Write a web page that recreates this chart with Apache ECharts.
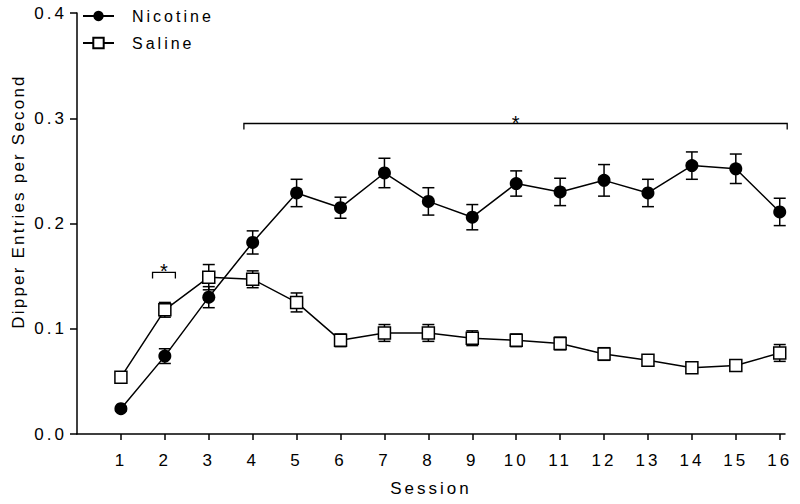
<!DOCTYPE html>
<html><head><meta charset="utf-8">
<script src="https://cdn.jsdelivr.net/npm/echarts@6/dist/echarts.min.js"></script>
<style>
html,body{margin:0;padding:0;background:#fff}
#c{width:800px;height:504px}
#c text{letter-spacing:3px}
</style></head><body><div id="c"></div>
<script>
// ---- data ----
const sessions = [1,2,3,4,5,6,7,8,9,10,11,12,13,14,15,16];
const nicotineMean = [0.024,0.074,0.130,0.182,0.229,0.215,0.248,0.221,0.206,0.238,0.230,0.241,0.229,0.255,0.252,0.211];
const nicotineSem  = [0.002,0.007,0.010,0.011,0.013,0.010,0.014,0.013,0.012,0.012,0.013,0.015,0.013,0.013,0.014,0.013];
const salineMean   = [0.054,0.118,0.149,0.147,0.125,0.089,0.096,0.096,0.091,0.089,0.086,0.076,0.070,0.063,0.065,0.077];
const salineSem    = [0.002,0.007,0.012,0.008,0.009,0.006,0.008,0.008,0.007,0.006,0.006,0.006,0.004,0.003,0.003,0.008];
const yTicks = [0, 0.1, 0.2, 0.3, 0.4];
const seriesNames = ['Nicotine', 'Saline'];
const xTitle = 'Session';
const yTitle = 'Dipper Entries per Second';
// significance brackets: start session, end session, level, label
const sigStart = [1.72, 3.80];
const sigEnd   = [2.24, 16.17];
const sigLevel = [0.1535, 0.295];
const sigLabel = ['*', '*'];

const FONT = 'Liberation Sans, Arial, sans-serif';
const chart = echarts.init(document.getElementById('c'), null, {renderer: 'svg'});

const nicPts = sessions.map((s, i) => [s, nicotineMean[i]]);
const salPts = sessions.map((s, i) => [s, salineMean[i]]);
const nicErr = sessions.map((s, i) => [s, nicotineMean[i] - nicotineSem[i], nicotineMean[i] + nicotineSem[i]]);
const salErr = sessions.map((s, i) => [s, salineMean[i] - salineSem[i], salineMean[i] + salineSem[i]]);
const brackets = sigStart.map((s, i) => [s, sigEnd[i], sigLevel[i], i]);

function errRender(params, api) {
  const x = api.value(0);
  const lo = api.coord([x, api.value(1)]);
  const hi = api.coord([x, api.value(2)]);
  const w = 6;
  const st = {stroke: '#000', lineWidth: 1.5, fill: 'none'};
  return {type: 'group', children: [
    {type: 'line', shape: {x1: lo[0], y1: lo[1], x2: hi[0], y2: hi[1]}, style: st},
    {type: 'line', shape: {x1: lo[0] - w, y1: lo[1], x2: lo[0] + w, y2: lo[1]}, style: st},
    {type: 'line', shape: {x1: hi[0] - w, y1: hi[1], x2: hi[0] + w, y2: hi[1]}, style: st}
  ]};
}
function bracketRender(params, api) {
  const a = api.coord([api.value(0), api.value(2)]);
  const b = api.coord([api.value(1), api.value(2)]);
  const drop = 6;
  const idx = api.value(3);
  return {type: 'group', children: [
    {type: 'polyline', shape: {points: [[a[0], a[1] + drop], a, b, [b[0], b[1] + drop]]},
     style: {stroke: '#000', lineWidth: 1.3, fill: 'none'}},
    {type: 'text', x: (a[0] + b[0]) / 2 + 1.5, y: a[1] + 9,
     style: {text: sigLabel[idx], fill: '#000', font: '20px ' + FONT, align: 'center', verticalAlign: 'bottom'}}
  ]};
}

chart.setOption({
  animation: false,
  backgroundColor: '#fff',
  textStyle: {fontFamily: FONT, color: '#000'},
  grid: {left: 77, right: 15, top: 13, bottom: 70, containLabel: false},
  legend: {
    orient: 'vertical', left: 77, top: 3, itemWidth: 31, itemHeight: 13, itemGap: 11,
    data: seriesNames,
    textStyle: {fontSize: 16, color: '#000', fontFamily: FONT, padding: [0, 0, 0, 13]}
  },
  xAxis: {
    type: 'value', min: 0, max: 16.12, interval: 1,
    axisLine: {show: true, lineStyle: {color: '#000', width: 1.5}},
    axisTick: {show: true, length: 6, lineStyle: {color: '#000', width: 1.5}, customValues: sessions},
    axisLabel: {fontSize: 17, color: '#000', margin: 18, customValues: sessions},
    splitLine: {show: false},
    name: xTitle, nameLocation: 'middle', nameGap: 46,
    nameTextStyle: {fontSize: 17, color: '#000'}
  },
  yAxis: {
    type: 'value', min: 0, max: 0.4, interval: 0.1,
    axisLine: {show: true, lineStyle: {color: '#000', width: 1.5}},
    axisTick: {show: true, length: 7, lineStyle: {color: '#000', width: 1.5}, customValues: yTicks},
    axisLabel: {fontSize: 17, color: '#000', margin: 10, customValues: yTicks,
      formatter: v => v.toFixed(1)},
    splitLine: {show: false},
    name: yTitle, nameLocation: 'middle', nameGap: 50,
    nameTextStyle: {fontSize: 17, color: '#000', padding: [0, 0, 0, 44]}
  },
  series: [
    {type: 'custom', name: 'nicErr', data: nicErr, renderItem: errRender, z: 1, silent: true},
    {type: 'custom', name: 'salErr', data: salErr, renderItem: errRender, z: 1, silent: true},
    {type: 'line', name: seriesNames[1], data: salPts, z: 2,
     symbol: 'rect', symbolSize: 12, showAllSymbol: true,
     lineStyle: {color: '#000', width: 1.5},
     itemStyle: {color: '#fff', borderColor: '#000', borderWidth: 1.5}},
    {type: 'line', name: seriesNames[0], data: nicPts, z: 3,
     symbol: 'circle', symbolSize: 13, showAllSymbol: true,
     lineStyle: {color: '#000', width: 1.5},
     itemStyle: {color: '#000', borderColor: '#000', borderWidth: 0}},
    {type: 'custom', name: 'sig', data: brackets, renderItem: bracketRender, z: 4, clip: false, silent: true}
  ]
});
// tighter letter spacing for the rotated y-axis title, as in the reference
document.querySelectorAll('#c text').forEach(t => {
  if (t.textContent === yTitle) t.style.letterSpacing = '2.2px';
});
</script></body></html>
